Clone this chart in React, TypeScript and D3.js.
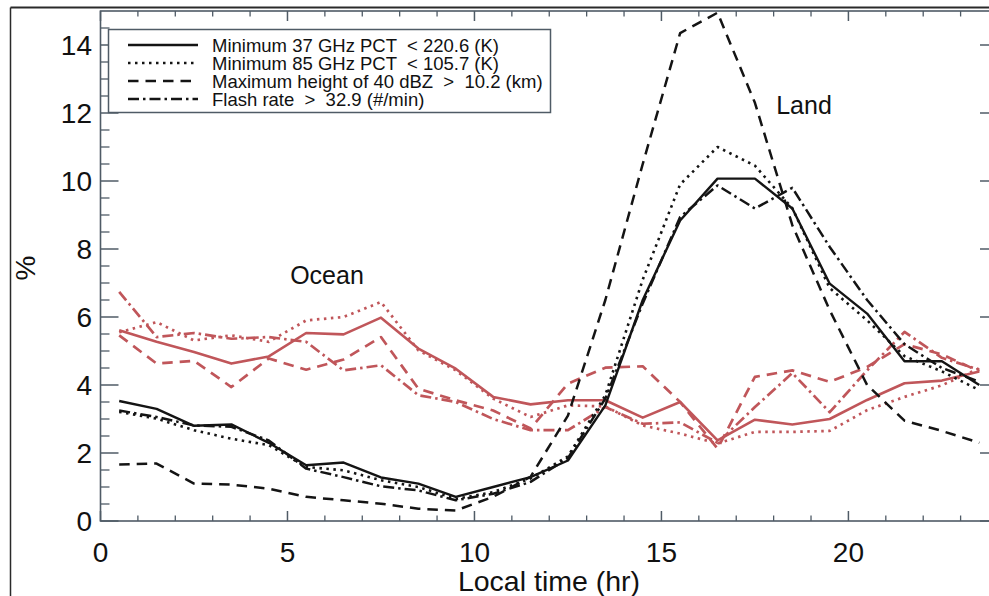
import React from "react";
import * as d3 from "d3";

const hours = [0.5, 1.5, 2.5, 3.5, 4.5, 5.5, 6.5, 7.5, 8.5, 9.5, 10.5, 11.5, 12.5, 13.5, 14.5, 15.5, 16.5, 17.5, 18.5, 19.5, 20.5, 21.5, 22.5, 23.5];

// Land (black)
const land37 = [3.53, 3.30, 2.80, 2.84, 2.30, 1.64, 1.72, 1.28, 1.10, 0.71, 1.0, 1.29, 1.78, 3.40, 6.5, 8.84, 10.07, 10.07, 9.19, 6.98, 6.1, 4.7, 4.7, 4.0];
const land85 = [3.21, 3.01, 2.67, 2.42, 2.23, 1.59, 1.49, 1.20, 1.00, 0.65, 0.85, 1.25, 1.9, 3.7, 7.1, 9.9, 11.0, 10.45, 9.2, 6.85, 5.9, 4.85, 4.4, 3.85];
const land40 = [1.66, 1.69, 1.10, 1.07, 0.95, 0.71, 0.61, 0.51, 0.36, 0.31, 0.71, 1.3, 3.1, 6.5, 10.5, 14.35, 14.95, 12.3, 8.7, 6.2, 4.0, 2.95, 2.65, 2.3];
const landFlash = [3.25, 3.06, 2.81, 2.77, 2.37, 1.54, 1.29, 1.02, 0.90, 0.61, 0.80, 1.15, 1.85, 3.6, 6.4, 8.94, 9.87, 9.19, 9.8, 8.06, 6.5, 5.2, 4.5, 4.1];

// Ocean (red)
const ocean37 = [5.61, 5.27, 4.97, 4.63, 4.84, 5.53, 5.49, 5.98, 5.07, 4.48, 3.65, 3.43, 3.55, 3.55, 3.04, 3.5, 2.37, 2.98, 2.84, 3.0, 3.56, 4.05, 4.13, 4.4];
const ocean85 = [5.55, 5.85, 5.31, 5.46, 5.27, 5.9, 6.0, 6.44, 5.02, 4.43, 3.6, 3.06, 3.40, 3.37, 2.81, 2.57, 2.28, 2.62, 2.62, 2.65, 3.26, 3.65, 3.99, 4.49];
const ocean40 = [5.46, 4.63, 4.71, 3.94, 4.78, 4.45, 4.75, 5.41, 3.89, 3.55, 3.25, 2.72, 4.04, 4.51, 4.55, 3.5, 2.13, 4.24, 4.43, 4.09, 4.53, 5.2, 4.9, 4.4];
const oceanFlash = [6.74, 5.41, 5.53, 5.36, 5.41, 5.27, 4.43, 4.58, 3.70, 3.5, 3.0, 2.67, 2.67, 3.35, 2.86, 2.9, 2.3, 3.35, 4.35, 3.2, 4.43, 5.56, 4.8, 4.45];

const legendLabels = [
  "Minimum 37 GHz PCT  < 220.6 (K)",
  "Minimum 85 GHz PCT  < 105.7 (K)",
  "Maximum height of 40 dBZ  >  10.2 (km)",
  "Flash rate  >  32.9 (#/min)",
];

const xMajorTicks = [0, 5, 10, 15, 20];
const xTickLabels = ["0", "5", "10", "15", "20"];
const xMinorTicks = [1, 2, 3, 4, 6, 7, 8, 9, 11, 12, 13, 14, 16, 17, 18, 19, 21, 22, 23];
const yMajorTicks = [0, 2, 4, 6, 8, 10, 12, 14];
const yTickLabels = ["0", "2", "4", "6", "8", "10", "12", "14"];
const yMinorTicks = [0.5, 1, 1.5, 2.5, 3, 3.5, 4.5, 5, 5.5, 6.5, 7, 7.5, 8.5, 9, 9.5, 10.5, 11, 11.5, 12.5, 13, 13.5, 14.5];

const W = 989;
const H = 596;
const FONT = "'Liberation Sans', Arial, Helvetica, sans-serif";
const BLACK = "#141414";
const RED = "#c0565a";
const AXIS = "#4f5b66";

const DASH = {
  solid: "none",
  dotted: "2.5,4.5",
  dashed: "10.5,7",
  dashdot: "11,4,2.5,4",
};

export default function App() {
  const x = d3.scaleLinear().domain([0, 24]).range([100.5, 998]);
  const y = d3.scaleLinear().domain([0, 15]).range([521, 11]);
  const line = d3
    .line<number>()
    .x((_, i) => x(hours[i]))
    .y((d) => y(d));

  const series = [
    { data: ocean37, color: RED, dash: DASH.solid, w: 2.6 },
    { data: ocean85, color: RED, dash: DASH.dotted, w: 2.7 },
    { data: ocean40, color: RED, dash: DASH.dashed, w: 2.7 },
    { data: oceanFlash, color: RED, dash: DASH.dashdot, w: 2.7 },
    { data: land37, color: BLACK, dash: DASH.solid, w: 2.4 },
    { data: land85, color: BLACK, dash: DASH.dotted, w: 2.6 },
    { data: land40, color: BLACK, dash: DASH.dashed, w: 2.5 },
    { data: landFlash, color: BLACK, dash: DASH.dashdot, w: 2.5 },
  ];

  const x0 = x(0);
  const x1 = x(24);
  const y0 = y(0);
  const y1 = y(15);
  const legendDash = [DASH.solid, DASH.dotted, DASH.dashed, DASH.dashdot];
  const legendRows = [45, 63, 81, 99];

  return (
    <svg
      width={W}
      height={H}
      style={{ position: "absolute", left: 0, top: 0, background: "#fff" }}
      fontFamily={FONT}
    >
      <defs>
        <clipPath id="plot">
          <rect x={x0} y={y1} width={x1 - x0} height={y0 - y1} />
        </clipPath>
      </defs>
      <rect x={0} y={0} width={W} height={H} fill="#fff" />
      {/* outer frame */}
      <line x1={10.5} y1={7.5} x2={W} y2={7.5} stroke="#2a2a2a" strokeWidth={2} />
      <line x1={10.5} y1={7.5} x2={10.5} y2={H} stroke="#2a2a2a" strokeWidth={1.5} />

      {/* plot box */}
      <rect x={x0} y={y1} width={x1 - x0} height={y0 - y1} fill="none" stroke={AXIS} strokeWidth={1.6} />

      {/* x ticks bottom & top */}
      {xMajorTicks.map((t) => (
        <g key={"xM" + t}>
          <line x1={x(t)} x2={x(t)} y1={y0} y2={y0 - 10} stroke={AXIS} strokeWidth={1.5} />
          <line x1={x(t)} x2={x(t)} y1={y1} y2={y1 + 10} stroke={AXIS} strokeWidth={1.5} />
        </g>
      ))}
      {xMinorTicks.map((t) => (
        <g key={"xm" + t}>
          <line x1={x(t)} x2={x(t)} y1={y0} y2={y0 - 5.5} stroke={AXIS} strokeWidth={1.3} />
          <line x1={x(t)} x2={x(t)} y1={y1} y2={y1 + 5.5} stroke={AXIS} strokeWidth={1.3} />
        </g>
      ))}
      {/* y ticks left & right */}
      {yMajorTicks.map((t) => (
        <g key={"yM" + t}>
          <line x1={x0} x2={x0 + 18} y1={y(t)} y2={y(t)} stroke={AXIS} strokeWidth={1.5} />
          <line x1={x1} x2={x1 - 18} y1={y(t)} y2={y(t)} stroke={AXIS} strokeWidth={1.5} />
        </g>
      ))}
      {yMinorTicks.map((t) => (
        <g key={"ym" + t}>
          <line x1={x0} x2={x0 + 9} y1={y(t)} y2={y(t)} stroke={AXIS} strokeWidth={1.3} />
          <line x1={x1} x2={x1 - 9} y1={y(t)} y2={y(t)} stroke={AXIS} strokeWidth={1.3} />
        </g>
      ))}

      {/* tick labels */}
      {xMajorTicks.map((t, i) => (
        <text key={"xl" + t} x={x(t)} y={562} fontSize={28} textAnchor="middle" fill="#111">
          {xTickLabels[i]}
        </text>
      ))}
      {yMajorTicks.map((t, i) => (
        <text key={"yl" + t} x={92} y={y(t) + 10} fontSize={28} textAnchor="end" fill="#111">
          {yTickLabels[i]}
        </text>
      ))}

      {/* axis titles */}
      <text x={549} y={591} fontSize={28.5} textAnchor="middle" fill="#111">
        Local time (hr)
      </text>
      <text transform="translate(35,268) rotate(-90)" fontSize={28} textAnchor="middle" fill="#111">
        %
      </text>

      {/* series */}
      <g clipPath="url(#plot)">
        {series.map((s, i) => (
          <path
            key={i}
            d={line(s.data) || ""}
            fill="none"
            stroke={s.color}
            strokeWidth={s.w}
            strokeDasharray={s.dash}
            strokeLinejoin="round"
          />
        ))}
      </g>

      {/* annotations */}
      <text x={327} y={284} fontSize={25} textAnchor="middle" fill="#111">
        Ocean
      </text>
      <text x={804} y={114} fontSize={25} textAnchor="middle" fill="#111">
        Land
      </text>

      {/* legend */}
      <rect x={108.5} y={29.5} width={442} height={83} fill="#fff" stroke={AXIS} strokeWidth={1.5} />
      {legendLabels.map((lab, i) => (
        <g key={"lg" + i}>
          <line
            x1={128}
            x2={198}
            y1={legendRows[i]}
            y2={legendRows[i]}
            stroke={BLACK}
            strokeWidth={2.5}
            strokeDasharray={legendDash[i]}
          />
          <text
            x={212}
            y={legendRows[i] + 6.5}
            fontSize={18.5}
            fill="#111"
            xmlSpace="preserve"
            style={{ whiteSpace: "pre" }}
          >
            {lab}
          </text>
        </g>
      ))}
    </svg>
  );
}
